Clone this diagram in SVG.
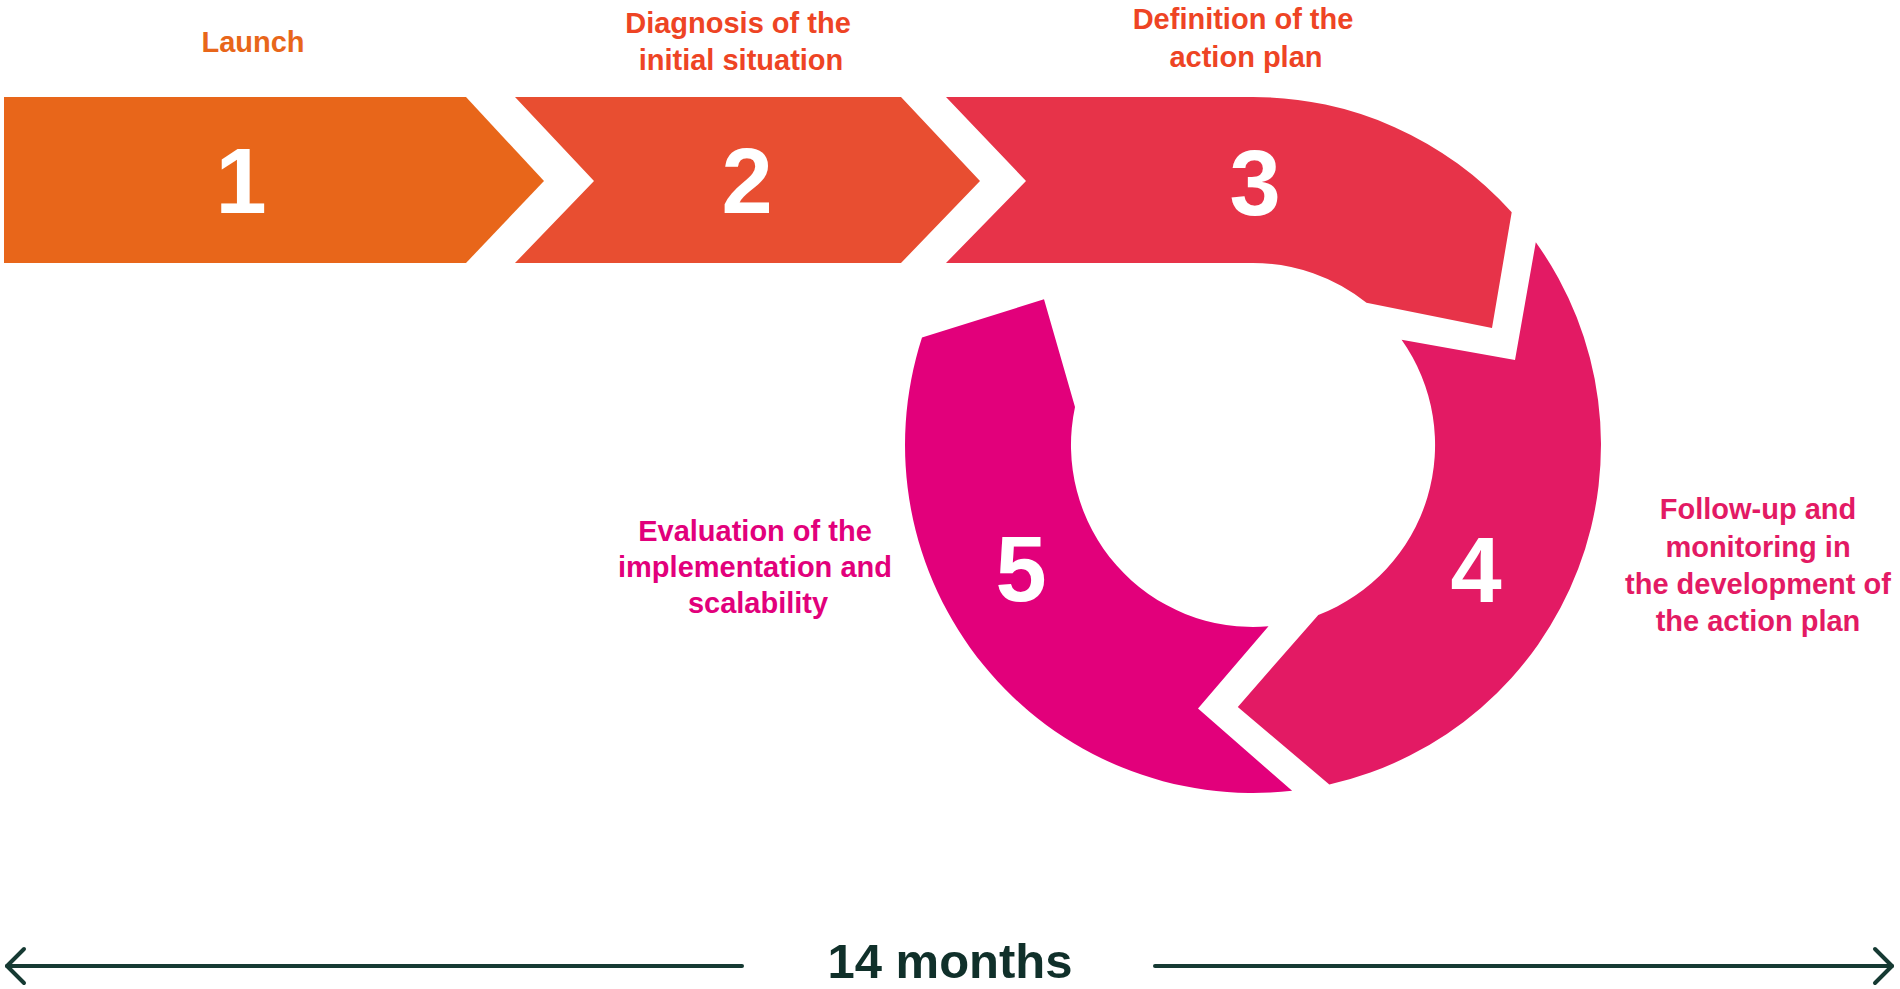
<svg xmlns="http://www.w3.org/2000/svg" width="1900" height="989" viewBox="0 0 1900 989">
<style>
.lbl{font-family:"Liberation Sans",Arial,sans-serif;font-weight:bold;font-size:29px;text-anchor:middle}
.num{font-family:"Liberation Sans",Arial,sans-serif;font-weight:bold;font-size:92px;fill:#fff;text-anchor:middle}
.tl{stroke:#163a33;stroke-width:4;fill:none;stroke-linecap:round;stroke-linejoin:round}
</style>
<rect width="1900" height="989" fill="#fff"/>
<g id="step1">
<polygon points="4,97 466,97 544,181 466,263 4,263" fill="#E8661A"/>
<text class="num" x="241" y="213">1</text>
<text class="lbl" x="253" y="52" fill="#E8661A">Launch</text>
</g>
<g id="step2">
<polygon points="515,97 901,97 980,181 901,263 515,263 594,181" fill="#E84E31"/>
<text class="num" x="747" y="213">2</text>
<text class="lbl" fill="#EE4424"><tspan x="738" y="33">Diagnosis of the</tspan><tspan x="741" y="70">initial situation</tspan></text>
</g>
<g id="step3">
<path d="M946,97 L1253,97 A348,348 0 0 1 1511.7,212.3 L1492,328 L1366.5,302.8 A182,182 0 0 0 1253,263 L946,263 L1026,181 Z" fill="#E73349"/>
<text class="num" x="1255" y="215">3</text>
<text class="lbl" fill="#EE4424"><tspan x="1243" y="29">Definition of the</tspan><tspan x="1246" y="67">action plan</tspan></text>
</g>
<g id="step4">
<path d="M1535.8,242.2 A348,348 0 0 1 1329.3,784.5 L1237.8,706.9 L1318.3,614.9 A182,182 0 0 0 1401.6,339.8 L1515,360 Z" fill="#E31A64"/>
<text class="num" x="1476" y="602">4</text>
<text class="lbl" fill="#E31A64"><tspan x="1758" y="519">Follow-up and</tspan><tspan x="1758" y="557">monitoring in</tspan><tspan x="1758" y="594">the development of</tspan><tspan x="1758" y="631">the action plan</tspan></text>
</g>
<g id="step5">
<path d="M1292.1,790.8 A348,348 0 0 1 922,337.6 L1044,299.3 L1075,406.9 A182,182 0 0 0 1268.5,626.3 L1198,708.6 Z" fill="#E2007B"/>
<text class="num" x="1021" y="601">5</text>
<text class="lbl" fill="#E2007B"><tspan x="755" y="541">Evaluation of the</tspan><tspan x="755" y="577">implementation and</tspan><tspan x="758" y="613">scalability</tspan></text>
</g>
<g id="connectors">
<line class="tl" x1="7" y1="966" x2="742" y2="966"/>
<polyline class="tl" points="24,949 7,966 24,983"/>
<line class="tl" x1="1155" y1="966" x2="1892" y2="966"/>
<polyline class="tl" points="1875,949 1892,966 1875,983"/>
</g>
<g id="duration">
<text x="950" y="978" font-family="'Liberation Sans',Arial,sans-serif" font-weight="bold" font-size="49" fill="#10302A" text-anchor="middle">14 months</text>
</g>
</svg>
